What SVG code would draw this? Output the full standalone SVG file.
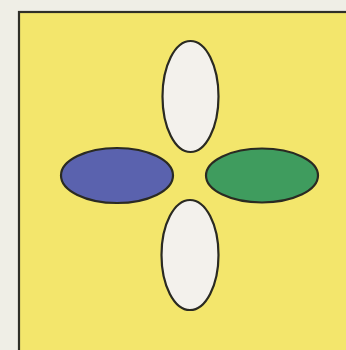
<svg xmlns="http://www.w3.org/2000/svg" width="346" height="350" viewBox="0 0 346 350">
<style>
.e{stroke:#2a2a22;stroke-width:2.2}
</style>
<rect x="0" y="0" width="346" height="350" fill="#efeee6"/>
<g id="panel">
<rect x="19" y="12" width="330" height="342" fill="#f3e66c" stroke="#2f2f28" stroke-width="2.2"/>
</g>
<g id="top"><ellipse class="e" cx="190.5" cy="96.5" rx="28" ry="55.5" fill="#f3f1ec"/></g>
<g id="bottom"><ellipse class="e" cx="190" cy="255" rx="28.5" ry="55" fill="#f3f1ec"/></g>
<g id="left"><ellipse class="e" cx="117" cy="175.5" rx="56" ry="27.5" fill="#5a62ae"/></g>
<g id="right"><ellipse class="e" cx="262" cy="175.5" rx="56" ry="27" fill="#3f9c5e"/></g>
<g id="connectors"/>
</svg>
